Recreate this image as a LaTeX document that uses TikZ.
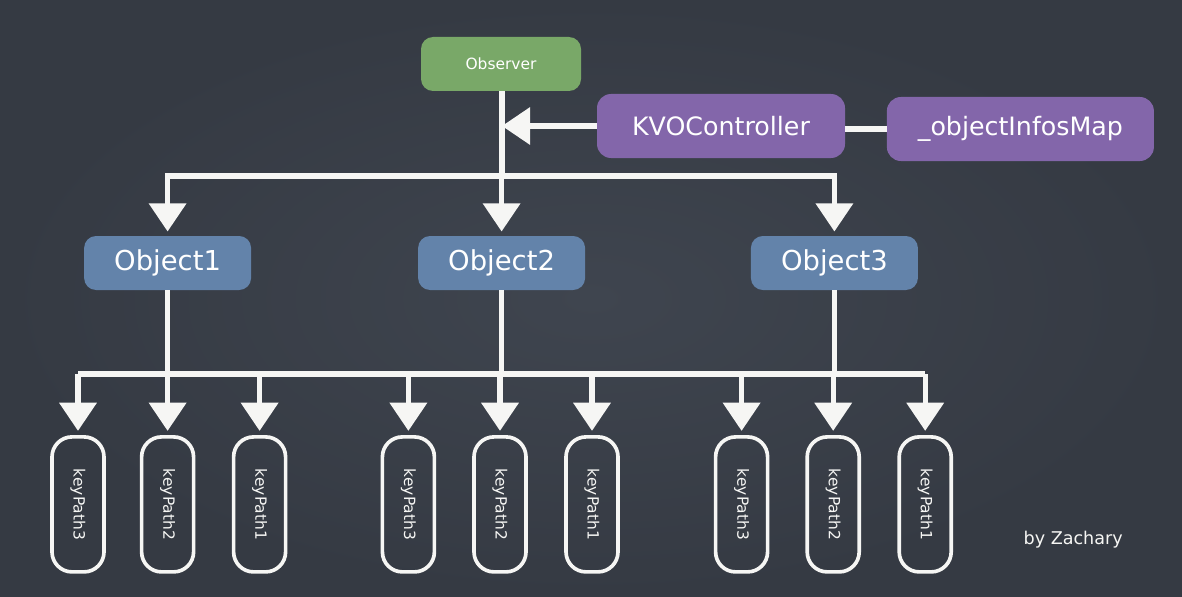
\documentclass[tikz,border=0pt]{standalone}
\usepackage{fontspec}
\setmainfont{DejaVu Sans}
\usepackage{xcolor}
\usetikzlibrary{positioning,arrows.meta,calc}

\definecolor{boardmid}{RGB}{63,69,79}
\definecolor{boardedge}{RGB}{53,58,67}
\definecolor{obsgreen}{RGB}{121,168,104}
\definecolor{kvopurple}{RGB}{131,102,170}
\definecolor{objblue}{RGB}{99,131,170}
\definecolor{chalk}{RGB}{246,246,244}

\begin{document}
\begin{tikzpicture}[
    >={Triangle[width=26pt,length=20pt]},
    obsbox/.style={
        fill=obsgreen,
        rounded corners=3mm,
        minimum width=4.0cm,
        minimum height=1.35cm,
        text=white,
        font=\fontsize{11}{13}\selectfont
    },
    kvobox/.style={
        fill=kvopurple,
        rounded corners=3.5mm,
        minimum height=1.6cm,
        text=white,
        font=\fontsize{18}{21}\selectfont
    },
    objbox/.style={
        fill=objblue,
        rounded corners=3mm,
        minimum width=4.175cm,
        minimum height=1.35cm,
        text=white,
        font=\fontsize{19.5}{22}\selectfont
    },
    keybox/.style={
        draw=chalk,
        line width=2.6pt,
        rounded corners=5mm,
        minimum width=1.3cm,
        minimum height=3.375cm,
        inner sep=0pt,
        text=chalk,
        font=\fontsize{11}{13}\selectfont
    },
    wire/.style={draw=chalk, line width=3.6pt},
    arr/.style={wire, ->, shorten >=3pt}
]

% board
\shade[inner color=boardmid, outer color=boardedge] (0,0) rectangle (29.55,-14.925);
\useasboundingbox (0,0) rectangle (29.55,-14.925);

% top row
\node[obsbox] (obs) at (12.525,-1.6) {Observer};
\node[kvobox, minimum width=6.2cm] (kvo) at (18.025,-3.15) {KVOController};
\node[kvobox, minimum width=6.675cm] (infos) at (25.51,-3.225) {\_objectInfosMap};

% objects
\node[objbox] (obj1) at (4.19,-6.575) {Object1};
\node[objbox] (obj2) at (12.54,-6.575) {Object2};
\node[objbox] (obj3) at (20.86,-6.575) {Object3};

% key paths
\node[keybox] (kp13) at (1.95,-12.61) {\rotatebox{-90}{keyPath3}};
\node[keybox] (kp12) at (4.19,-12.61) {\rotatebox{-90}{keyPath2}};
\node[keybox] (kp11) at (6.49,-12.61) {\rotatebox{-90}{keyPath1}};
\node[keybox] (kp23) at (10.21,-12.61) {\rotatebox{-90}{keyPath3}};
\node[keybox] (kp22) at (12.5,-12.61) {\rotatebox{-90}{keyPath2}};
\node[keybox] (kp21) at (14.8,-12.61) {\rotatebox{-90}{keyPath1}};
\node[keybox] (kp33) at (18.54,-12.61) {\rotatebox{-90}{keyPath3}};
\node[keybox] (kp32) at (20.83,-12.61) {\rotatebox{-90}{keyPath2}};
\node[keybox] (kp31) at (23.13,-12.61) {\rotatebox{-90}{keyPath1}};

\node[text=chalk, font=\fontsize{12.5}{15}\selectfont] (sign) at (26.83,-13.5) {by Zachary};

% split points
\coordinate (top) at (12.55,-4.4);
\coordinate (low) at (0,-9.35);

% observer to objects
\draw[wire] (obs.south -| top) -- (top);
\draw[arr] (top) -| (obj1.north);
\draw[arr] (top) -- (top -| obj2.north) -- (obj2.north);
\draw[arr] (top) -| (obj3.north);

% controller
\draw[arr, shorten >=0pt] (kvo.west) -- (kvo.west -| top);
\draw[wire] (infos.west) -- (infos.west -| kvo.east);

% objects to key paths
\draw[wire] (low -| kp13.north) -- (low -| kp31.north);
\foreach \k in {kp13,kp12,kp11,kp23,kp22,kp21,kp33,kp32,kp31}
    \draw[arr] (low -| \k.north) -- (\k.north);
\foreach \o in {obj1,obj2,obj3}
    \draw[wire] (\o.south) -- (low -| \o.south);

\end{tikzpicture}
\end{document}
